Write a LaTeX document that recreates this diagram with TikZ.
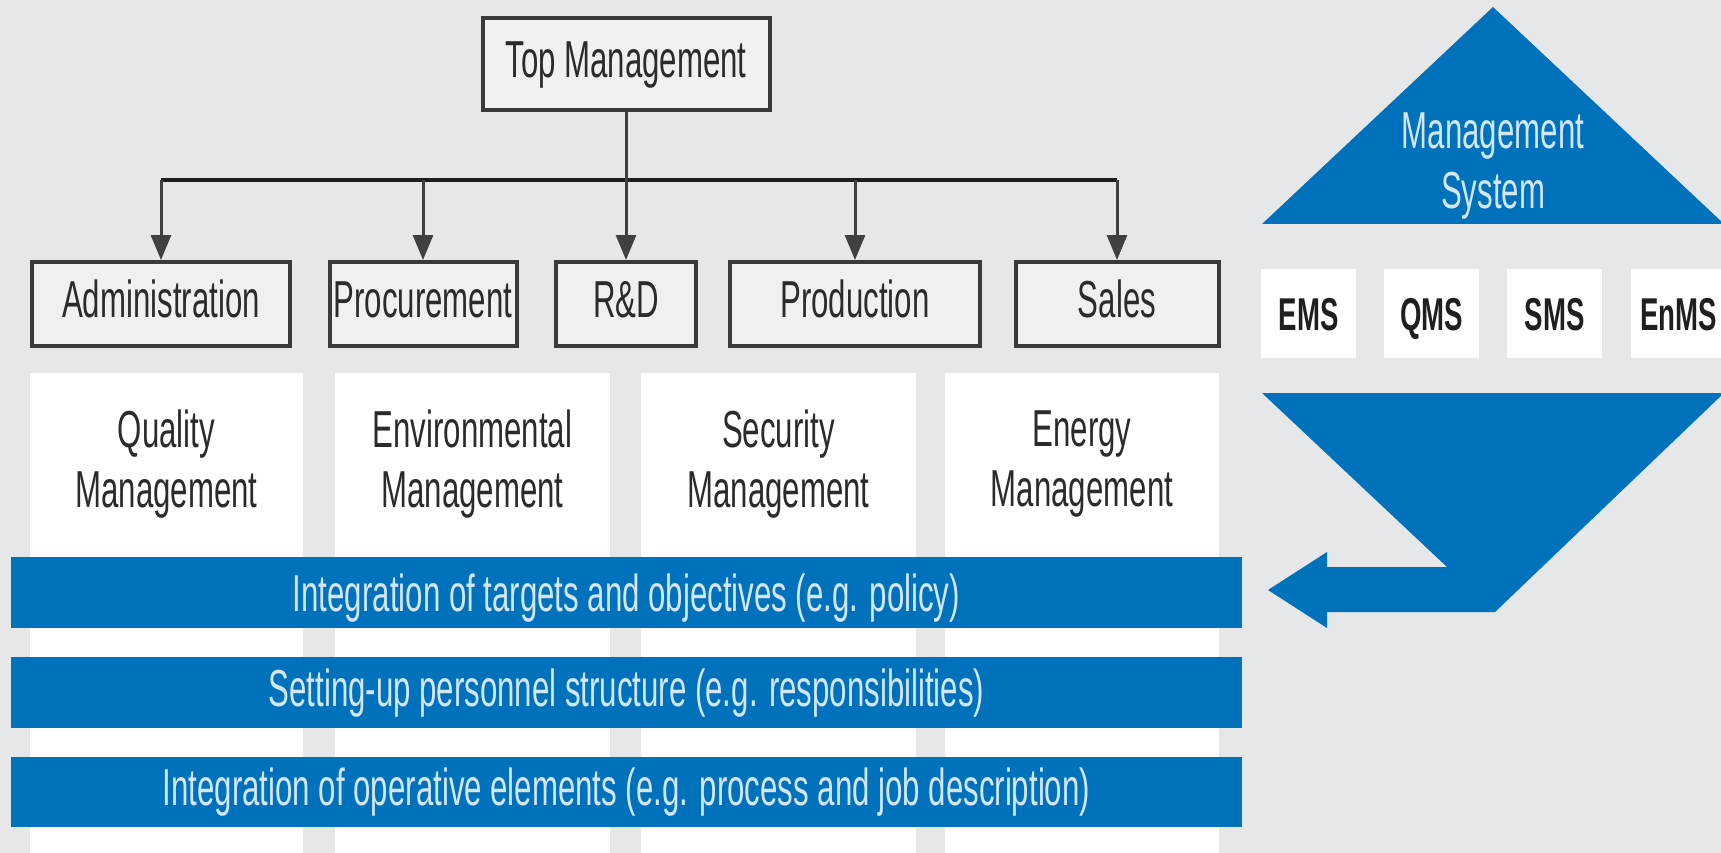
\documentclass[tikz,border=0pt]{standalone}
\usepackage{fontspec}
\setmainfont{Liberation Sans}[FakeStretch=0.6]
\usetikzlibrary{arrows.meta}
\definecolor{bg}{HTML}{E6E7E9}
\definecolor{msblue}{HTML}{0071BB}
\definecolor{paleblue}{HTML}{D2E6F5}
\definecolor{boxfill}{HTML}{F0F0F0}
\definecolor{boxline}{HTML}{3A3A3A}
\definecolor{ink}{HTML}{2B2B2B}
\newcommand{\bigfont}{\fontsize{52}{60}\selectfont}

\begin{document}
\begin{tikzpicture}[x=1pt,y=-1pt,
  dept/.style={draw=boxline,line width=4pt,fill=boxfill,text=ink,inner sep=0pt,
    font=\bigfont,text height=38pt,text depth=11pt},
  sys/.style={fill=white,inner sep=0pt,minimum width=95pt,minimum height=89pt,
    font=\fontsize{46}{50}\selectfont\bfseries,text=black!88,text height=33pt,text depth=0pt},
  col/.style={fill=white,inner sep=0pt,minimum height=490pt,anchor=north},
  coltext/.style={align=center,font=\bigfont,text=ink,inner sep=0pt},
  band/.style={fill=msblue,text=paleblue,inner sep=0pt,minimum width=1231pt,
    minimum height=71pt,font=\bigfont,text height=38pt,text depth=11pt},
  bar/.style={draw=black!88,line width=4.5pt},
  drop/.style={draw=black!75,line width=3pt,-{Triangle[length=25pt,width=20pt]}}]
  \useasboundingbox (0,0) rectangle (1721,853);
  \fill[bg] (0,0) rectangle (1721,853);
  \clip (0,0) rectangle (1721,853);

  \node[col,minimum width=273pt] (cQ) at (166.5,373) {};
  \node[col,minimum width=275pt] (cE) at (472.5,373) {};
  \node[col,minimum width=275pt] (cS) at (778.5,373) {};
  \node[col,minimum width=274pt] (cEn) at (1082,373) {};
  \node[coltext] (tQ) at (166.5,464.5) {Quality\\Management};
  \node[coltext] (tE) at (472.5,464.5) {Environmental\\Management};
  \node[coltext] (tS) at (778.5,464.5) {Security\\Management};
  \node[coltext] (tEn) at (1082,464.5) {Energy\\Management};

  \node[band,text depth=0pt] (b1) at (626.5,592.5) {Integration of targets and objectives (e.g. policy)};
  \node[band] (b2) at (626.5,692.5) {Setting-up personnel structure (e.g. responsibilities)};
  \node[band,minimum height=70pt] (b3) at (626.5,792) {Integration of operative elements (e.g. process and job description)};

  \node[dept,minimum width=287pt,minimum height=92pt] (top) at (626,64) {Top Management};
  \node[dept,minimum width=258pt,minimum height=84pt] (admin) at (161,304) {Administration};
  \node[dept,minimum width=187pt,minimum height=84pt] (procure) at (423,304) {Procurement};
  \node[dept,minimum width=140pt,minimum height=84pt] (rnd) at (626,304) {R\&D};
  \node[dept,minimum width=250pt,minimum height=84pt] (prod) at (855,304) {Production};
  \node[dept,minimum width=203pt,minimum height=84pt] (sales) at (1117,304) {Sales};

  \coordinate (bus) at (626,180);
  \draw[bar] (admin.north |- bus) -- (sales.north |- bus);
  \foreach \d in {admin,procure,prod,sales}
    \draw[drop] (\d.north |- bus) -- (\d.north);
  \draw[drop] (top) -- (rnd);

  \fill[msblue] (1262,224) -- (1493,7) -- (1724,224) -- cycle;
  \node[coltext,text=paleblue] (ms) at (1493,166) {Management\\System};

  \node[sys] (ems) at (1308.5,313.5) {EMS};
  \node[sys] (qms) at (1431.5,313.5) {QMS};
  \node[sys] (sms) at (1554.5,313.5) {SMS};
  \node[sys] (enms) at (1678.5,313.5) {EnMS};

  \fill[msblue] (1262,393) -- (1724,393) -- (1495,612) -- (1327,612) -- (1327,628)
    -- (1268,590) -- (1327,552) -- (1327,567) -- (1447,567) -- cycle;
\end{tikzpicture}
\end{document}
